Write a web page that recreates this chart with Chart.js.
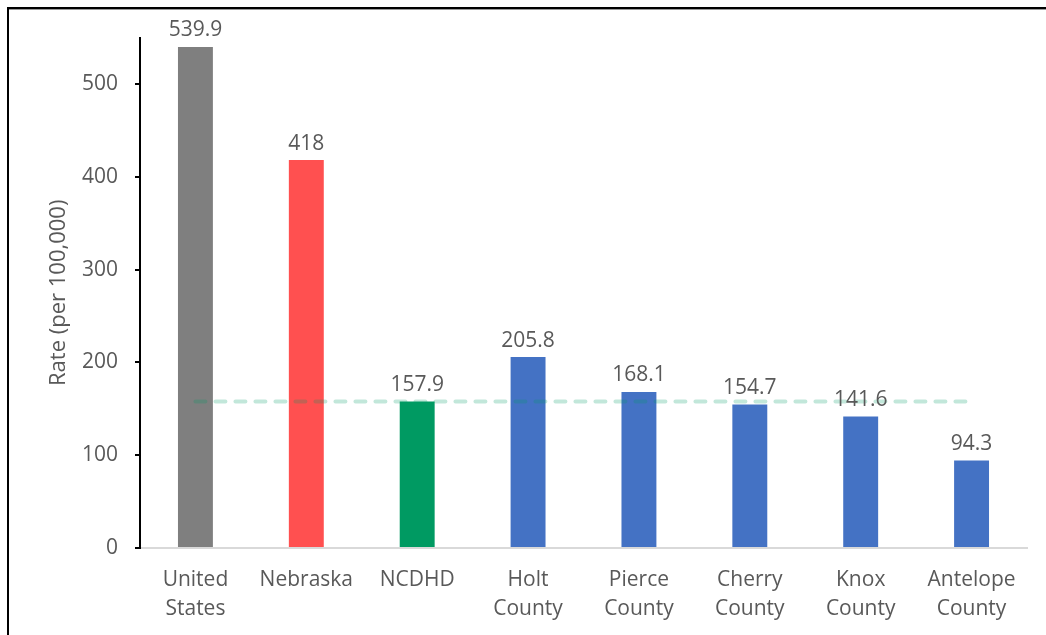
<!DOCTYPE html>
<html>
<head>
<meta charset="utf-8">
<script src="https://cdn.jsdelivr.net/npm/chart.js@4"></script>
<style>
  html, body { margin: 0; padding: 0; background: #fff; }
  #wrap { position: relative; width: 1046px; height: 635px; overflow: hidden; }
  #frame {
    position: absolute; left: 7px; top: 7px; right: -10px; bottom: -10px;
    border-top: 2px solid #000; border-left: 2px solid #000;
    box-shadow: 0 1px 0 #999 inset;
    pointer-events: none;
  }
  canvas { position: absolute; left: 0; top: 0; }
</style>
</head>
<body>
<div id="wrap">
  <canvas id="chart" width="1046" height="635"></canvas>
  <div id="frame"></div>
</div>
<script>
const categories = [
  ["United", "States"],
  "Nebraska",
  "NCDHD",
  ["Holt", "County"],
  ["Pierce", "County"],
  ["Cherry", "County"],
  ["Knox", "County"],
  ["Antelope", "County"],
];
const rates = [539.9, 418, 157.9, 205.8, 168.1, 154.7, 141.6, 94.3];
const ncdhdLine = [157.9, 157.9, 157.9, 157.9, 157.9, 157.9, 157.9, 157.9];
const barColors = [
  "#7F7F7F",
  "#FF5050",
  "#009A62",
  "#4472C4",
  "#4472C4",
  "#4472C4",
  "#4472C4",
  "#4472C4",
];
const yTicks = [0, 100, 200, 300, 400, 500];

const FONT = "'Open Sans', 'Noto Sans', sans-serif";
const TEXT = "#595959";

// value labels above each bar
const barLabels = {
  id: "barLabels",
  afterDatasetsDraw(chart) {
    const ctx = chart.ctx;
    const meta = chart.getDatasetMeta(0);
    ctx.save();
    ctx.font = "21px " + FONT;
    ctx.fillStyle = TEXT;
    ctx.textAlign = "center";
    ctx.textBaseline = "bottom";
    meta.data.forEach((bar, i) => {
      ctx.fillText(String(rates[i]), bar.x, bar.y - 6);
    });
    ctx.restore();
  },
};

const ctx = document.getElementById("chart").getContext("2d");
new Chart(ctx, {
  data: {
    labels: categories,
    datasets: [
      {
        type: "bar",
        data: rates,
        backgroundColor: barColors,
        categoryPercentage: 1,
        barPercentage: 0.315,
        order: 2,
      },
      {
        type: "line",
        data: ncdhdLine,
        borderColor: "rgba(0, 153, 102, 0.24)",
        borderWidth: 4,
        borderDash: [10, 10],
        borderCapStyle: "round",
        pointRadius: 0,
        fill: false,
        order: 1,
      },
    ],
  },
  options: {
    responsive: false,
    animation: false,
    layout: {
      padding: { left: 30, right: 19, top: 37.6, bottom: 0 },
    },
    plugins: {
      legend: { display: false },
      tooltip: { enabled: false },
    },
    scales: {
      x: {
        afterFit: (scale) => {
          scale.height = 87;
        },
        grid: { display: false },
        border: { color: "#D9D9D9", width: 2 },
        ticks: {
          color: TEXT,
          font: { family: FONT, size: 21, lineHeight: 1.38 },
          padding: 10,
          maxRotation: 0,
          autoSkip: false,
        },
      },
      y: {
        min: 0,
        max: 550,
        afterBuildTicks: (axis) => {
          axis.ticks = yTicks.map((v) => ({ value: v }));
        },
        afterFit: (scale) => {
          scale.width = 110;
        },
        grid: {
          drawOnChartArea: false,
          drawTicks: true,
          tickLength: 5,
          color: "#000",
          lineWidth: 2,
        },
        border: { color: "#000", width: 2 },
        ticks: {
          color: TEXT,
          font: { family: FONT, size: 21 },
          padding: 17,
        },
        title: {
          display: true,
          text: "Rate (per 100,000)",
          color: TEXT,
          font: { family: FONT, size: 22 },
          padding: { top: 16, bottom: 0 },
        },
      },
    },
  },
  plugins: [barLabels],
});
</script>
</body>
</html>
